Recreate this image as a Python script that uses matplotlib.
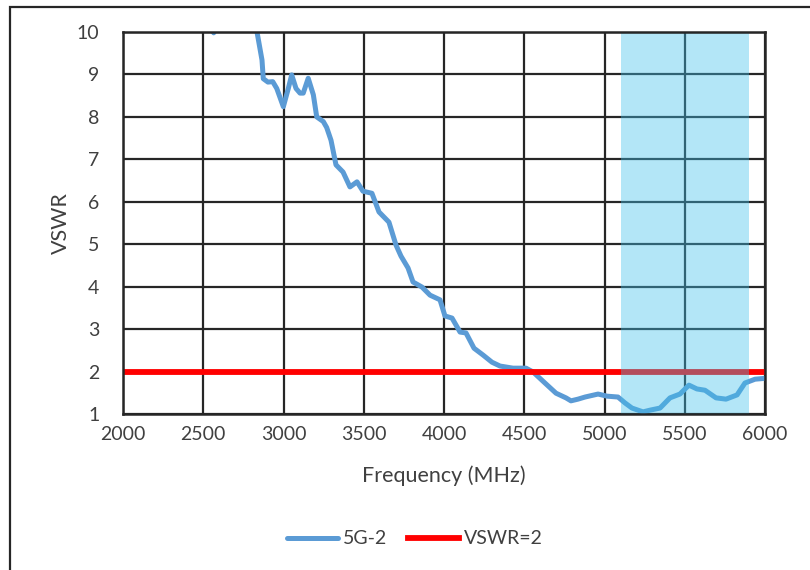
'''VSWR vs frequency chart'''

import matplotlib.pyplot as plt
from matplotlib.patches import Rectangle

# Data
freq = [2520, 2565, 2610, 2800, 2835, 2866, 2874, 2903, 2933, 2958, 2999, 3030,
        3051, 3078, 3103, 3123, 3154, 3186, 3207, 3248, 3269, 3296, 3327, 3371,
        3414, 3458, 3495, 3551, 3595, 3657, 3701, 3732, 3776, 3807, 3863, 3913,
        3975, 4006, 4050, 4100, 4137, 4187, 4243, 4299, 4349, 4430, 4511, 4555,
        4629, 4698, 4760, 4791, 4835, 4879, 4960, 5016, 5084, 5128, 5171, 5240,
        5283, 5346, 5408, 5470, 5526, 5576, 5626, 5695, 5757, 5826, 5875, 5938,
        6000]
vswr = [10.3, 9.98, 10.3, 10.6, 10.0, 9.34, 8.90, 8.82, 8.83, 8.67, 8.24, 8.67,
        8.99, 8.67, 8.56, 8.56, 8.91, 8.52, 8.00, 7.89, 7.75, 7.45, 6.87, 6.70,
        6.35, 6.47, 6.25, 6.20, 5.76, 5.52, 4.98, 4.72, 4.44, 4.11, 3.99, 3.80,
        3.69, 3.31, 3.26, 2.93, 2.91, 2.55, 2.39, 2.22, 2.13, 2.08, 2.08, 1.99,
        1.73, 1.49, 1.38, 1.31, 1.35, 1.40, 1.47, 1.42, 1.40, 1.26, 1.14, 1.05,
        1.09, 1.14, 1.38, 1.47, 1.68, 1.59, 1.56, 1.38, 1.35, 1.45, 1.73, 1.82,
        1.84]
limit = 2
band = (5100, 5900)
xticks = list(range(2000, 6001, 500))
yticks = list(range(1, 11))

plt.rcParams['font.family'] = ['Lato', 'DejaVu Sans']
text_col = '#404040'
grid_col = '#262626'

fig = plt.figure(figsize=(8.1, 5.7), dpi=100)
ax = fig.add_axes([123 / 810, 1 - 414 / 570, 642 / 810, 382 / 570])

# grid lines
for x in xticks:
    ax.axvline(x, color=grid_col, lw=1.6, zorder=1)
for y in yticks:
    ax.axhline(y, color=grid_col, lw=1.6, zorder=1)

ax.plot(freq, vswr, color='#5B9BD5', lw=3.6, zorder=2, label='5G-2',
        solid_capstyle='round', solid_joinstyle='round')
ax.axhline(limit, color='#FF0000', lw=4.2, zorder=2, label='VSWR=2')
ax.axvspan(band[0], band[1], color='#41C1EB', alpha=0.4, lw=0, zorder=3)

ax.set_xlim(2000, 6000)
ax.set_ylim(1, 10)
ax.set_xticks(xticks)
ax.set_yticks(yticks)
ax.tick_params(length=0, labelsize=14, colors=text_col)
ax.tick_params(axis='y', pad=17)
ax.tick_params(axis='x', pad=9)
for s in ax.spines.values():
    s.set_color(grid_col)
    s.set_linewidth(1.8)
    s.set_zorder(4)
ax.set_xlabel('Frequency (MHz)', fontsize=15.5, color=text_col, labelpad=16)
ax.set_ylabel('VSWR', fontsize=15.5, color=text_col, labelpad=4)

fig.legend(loc='center', bbox_to_anchor=(415 / 810, 1 - 539 / 570), ncol=2,
           frameon=False, fontsize=14, handlelength=2.6, handletextpad=0.25,
           columnspacing=1.1, labelcolor=text_col)

# figure border
fig.patches.append(Rectangle((10 / 810, -0.1), 1.1, 1.1 - 7 / 570,
                             transform=fig.transFigure, fill=False,
                             edgecolor=grid_col, lw=1.6))

fig.savefig('out.png', dpi=100)
